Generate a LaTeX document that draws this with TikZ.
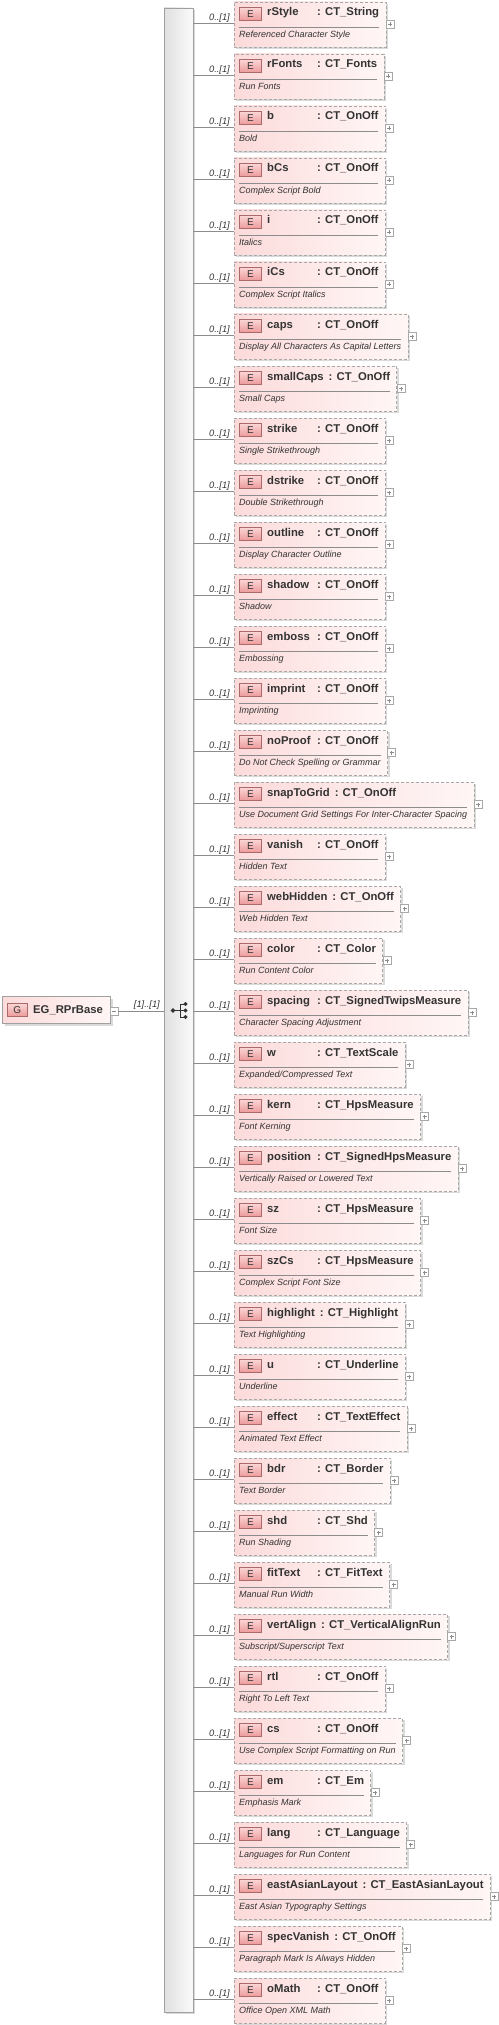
\documentclass[tikz,border=0pt]{standalone}
\usepackage{fontspec}
\setmainfont{Liberation Sans}
\usetikzlibrary{shadows}
\definecolor{boxl}{HTML}{FCDADA}
\definecolor{boxr}{HTML}{FFF6F6}
\definecolor{dashc}{HTML}{A8A8A8}
\definecolor{bdgt}{HTML}{FBD6D6}
\definecolor{bdgb}{HTML}{EE9A9A}
\definecolor{bdgd}{HTML}{A86A6A}
\definecolor{linec}{HTML}{8C8C8C}
\definecolor{txtc}{HTML}{333333}
\definecolor{barl}{HTML}{E0E0E0}
\definecolor{barr}{HTML}{FAFAFA}
\definecolor{barb}{HTML}{A0A0A0}
\definecolor{shadc}{HTML}{DADADA}
\newdimen\xnmw \newdimen\xtyw \newdimen\xdsw
\newbox\xbA \newbox\xbB \newbox\xbC
\newcommand\namefnt{\fontsize{11.3}{13}\selectfont\bfseries}
\newcommand\descfnt{\fontsize{9}{11}\selectfont\itshape}
\newcommand\multfnt{\fontsize{9.3}{11}\selectfont\itshape}
\tikzset{
 elbox/.style={draw=dashc, dash pattern=on 3pt off 2pt, line width=0.8pt, left color=boxl, right color=boxr, inner sep=0pt, outer sep=0pt, drop shadow={shadow xshift=2pt,shadow yshift=-2pt,fill=shadc,opacity=1}},
 gbox/.style={draw=barb, line width=0.8pt, left color=boxl, right color=boxr, inner sep=0pt, outer sep=0pt, drop shadow={shadow xshift=3pt,shadow yshift=-3pt,fill=shadc,opacity=1}},
 badge/.style={draw=bdgd, line width=0.7pt, top color=bdgt, bottom color=bdgb, inner sep=0pt, font=\fontsize{10}{12}\selectfont, text=txtc},
 nametxt/.style={inner sep=0pt, font=\namefnt, text=txtc},
 desctxt/.style={inner sep=0pt, font=\descfnt, text=txtc},
 mult/.style={inner sep=0pt, font=\multfnt, text=txtc},
 sepline/.style={draw=linec, line width=0.7pt},
 conn/.style={draw=linec, line width=0.8pt},
 pmbox/.style={draw=dashc, fill=white, line width=0.6pt, minimum size=8pt, inner sep=0pt, outer sep=0pt},
 pmsign/.style={draw=linec, line width=0.6pt},
 seqbar/.style={draw=barb, line width=0.8pt, left color=barl, right color=barr, inner sep=0pt, outer sep=0pt, drop shadow={shadow xshift=2pt,shadow yshift=-2pt,fill=shadc,opacity=1}},
 icon/.style={draw=txtc, fill=txtc, line width=0.8pt},
}
\newcommand\xelem[4]{%
 \pgfinterruptpicture
 \global\setbox\xbA\hbox{\namefnt #2}%
 \global\setbox\xbB\hbox{\namefnt : #3}%
 \global\setbox\xbC\hbox{\descfnt #4}%
 \endpgfinterruptpicture
 \xnmw=\wd\xbA \xtyw=\wd\xbB \xdsw=\wd\xbC
 \pgfmathsetmacro\eY{23+52*#1}%
 \pgfmathsetmacro\eTX{max(50,\xnmw+5)+33}%
 \pgfmathsetmacro\eW{max(\eTX+\xtyw,5+\xdsw)+7}%
 \pgfmathsetmacro\eRs{\eW-7}%
 \coordinate (c#1) at (234pt,-\eY pt);
 \node[elbox, anchor=north west, minimum width=\eW pt, minimum height=45pt] (e#1) at ([yshift=21pt]c#1) {};
 \node[badge, anchor=north west, minimum width=22pt, minimum height=13pt] (b#1) at ([xshift=5pt,yshift=16pt]c#1) {E};
 \node[nametxt, anchor=base west] (n#1) at ([xshift=33pt,yshift=7pt]c#1) {#2};
 \node[nametxt, anchor=base west] (t#1) at ([xshift=\eTX pt,yshift=7pt]c#1) {: #3};
 \draw[sepline] ([xshift=5pt,yshift=-4pt]c#1) -- ([xshift=\eRs pt,yshift=-4pt]c#1);
 \node[desctxt, anchor=base west] (d#1) at ([xshift=5pt,yshift=-14.5pt]c#1) {#4};
 \node[pmbox, anchor=west] (p#1) at ([xshift=\eW pt,yshift=-1.5pt]c#1) {};
 \draw[pmsign] ([xshift=2pt]p#1.west) -- ([xshift=-2pt]p#1.east) ([yshift=2pt]p#1.south) -- ([yshift=-2pt]p#1.north);
 \node[mult, anchor=base east] (m#1) at ([xshift=-4pt,yshift=2.5pt]c#1) {0..[1]};
 \draw[conn] (bar.east |- c#1) -- (c#1);
}
\begin{document}
\begin{tikzpicture}
\useasboundingbox[fill=white] (0pt,0pt) rectangle (498pt,-2025pt);
% sequence bar
\node[seqbar, minimum width=29pt, minimum height=2004pt] (bar) at (178.5pt,-1010pt) {};
% sequence icon
\coordinate (sq) at (180pt,-1010.5pt);
\fill[icon] ([xshift=-7pt]sq) circle (1.8pt);
\draw[icon] ([xshift=-7pt]sq) -- (sq);
\draw[icon] ([yshift=6.5pt]sq) -- ([yshift=-6.5pt]sq);
\draw[icon] ([yshift=6.5pt]sq) -- ([xshift=5.5pt,yshift=6.5pt]sq) (sq) -- ([xshift=5.5pt]sq) ([yshift=-6.5pt]sq) -- ([xshift=5.5pt,yshift=-6.5pt]sq);
\fill[icon] ([xshift=5.5pt,yshift=6.5pt]sq) circle (1.6pt) ([xshift=5.5pt]sq) circle (1.6pt) ([xshift=5.5pt,yshift=-6.5pt]sq) circle (1.6pt);
% group node
\node[gbox, anchor=north west, minimum width=108pt, minimum height=27pt] (g) at (2pt,-996pt) {};
\node[badge, anchor=north west, minimum width=20pt, minimum height=13pt] (gb) at (7pt,-1003pt) {G};
\node[nametxt, anchor=base west] (gn) at (33pt,-1013pt) {EG\_RPrBase};
\node[pmbox, anchor=west] (gm) at (g.east |- 0pt,-1011pt) {};
\draw[pmsign] ([xshift=2pt]gm.west) -- ([xshift=-2pt]gm.east);
\node[mult, anchor=base east] (gml) at (160pt,-1007pt) {[1]..[1]};
\draw[conn] (gm.east) -- (bar.west |- gm.east);
% elements
\xelem{0}{rStyle}{CT\_String}{Referenced Character Style}
\xelem{1}{rFonts}{CT\_Fonts}{Run Fonts}
\xelem{2}{b}{CT\_OnOff}{Bold}
\xelem{3}{bCs}{CT\_OnOff}{Complex Script Bold}
\xelem{4}{i}{CT\_OnOff}{Italics}
\xelem{5}{iCs}{CT\_OnOff}{Complex Script Italics}
\xelem{6}{caps}{CT\_OnOff}{Display All Characters As Capital Letters}
\xelem{7}{smallCaps}{CT\_OnOff}{Small Caps}
\xelem{8}{strike}{CT\_OnOff}{Single Strikethrough}
\xelem{9}{dstrike}{CT\_OnOff}{Double Strikethrough}
\xelem{10}{outline}{CT\_OnOff}{Display Character Outline}
\xelem{11}{shadow}{CT\_OnOff}{Shadow}
\xelem{12}{emboss}{CT\_OnOff}{Embossing}
\xelem{13}{imprint}{CT\_OnOff}{Imprinting}
\xelem{14}{noProof}{CT\_OnOff}{Do Not Check Spelling or Grammar}
\xelem{15}{snapToGrid}{CT\_OnOff}{Use Document Grid Settings For Inter-Character Spacing}
\xelem{16}{vanish}{CT\_OnOff}{Hidden Text}
\xelem{17}{webHidden}{CT\_OnOff}{Web Hidden Text}
\xelem{18}{color}{CT\_Color}{Run Content Color}
\xelem{19}{spacing}{CT\_SignedTwipsMeasure}{Character Spacing Adjustment}
\xelem{20}{w}{CT\_TextScale}{Expanded/Compressed Text}
\xelem{21}{kern}{CT\_HpsMeasure}{Font Kerning}
\xelem{22}{position}{CT\_SignedHpsMeasure}{Vertically Raised or Lowered Text}
\xelem{23}{sz}{CT\_HpsMeasure}{Font Size}
\xelem{24}{szCs}{CT\_HpsMeasure}{Complex Script Font Size}
\xelem{25}{highlight}{CT\_Highlight}{Text Highlighting}
\xelem{26}{u}{CT\_Underline}{Underline}
\xelem{27}{effect}{CT\_TextEffect}{Animated Text Effect}
\xelem{28}{bdr}{CT\_Border}{Text Border}
\xelem{29}{shd}{CT\_Shd}{Run Shading}
\xelem{30}{fitText}{CT\_FitText}{Manual Run Width}
\xelem{31}{vertAlign}{CT\_VerticalAlignRun}{Subscript/Superscript Text}
\xelem{32}{rtl}{CT\_OnOff}{Right To Left Text}
\xelem{33}{cs}{CT\_OnOff}{Use Complex Script Formatting on Run}
\xelem{34}{em}{CT\_Em}{Emphasis Mark}
\xelem{35}{lang}{CT\_Language}{Languages for Run Content}
\xelem{36}{eastAsianLayout}{CT\_EastAsianLayout}{East Asian Typography Settings}
\xelem{37}{specVanish}{CT\_OnOff}{Paragraph Mark Is Always Hidden}
\xelem{38}{oMath}{CT\_OnOff}{Office Open XML Math}
\end{tikzpicture}
\end{document}
